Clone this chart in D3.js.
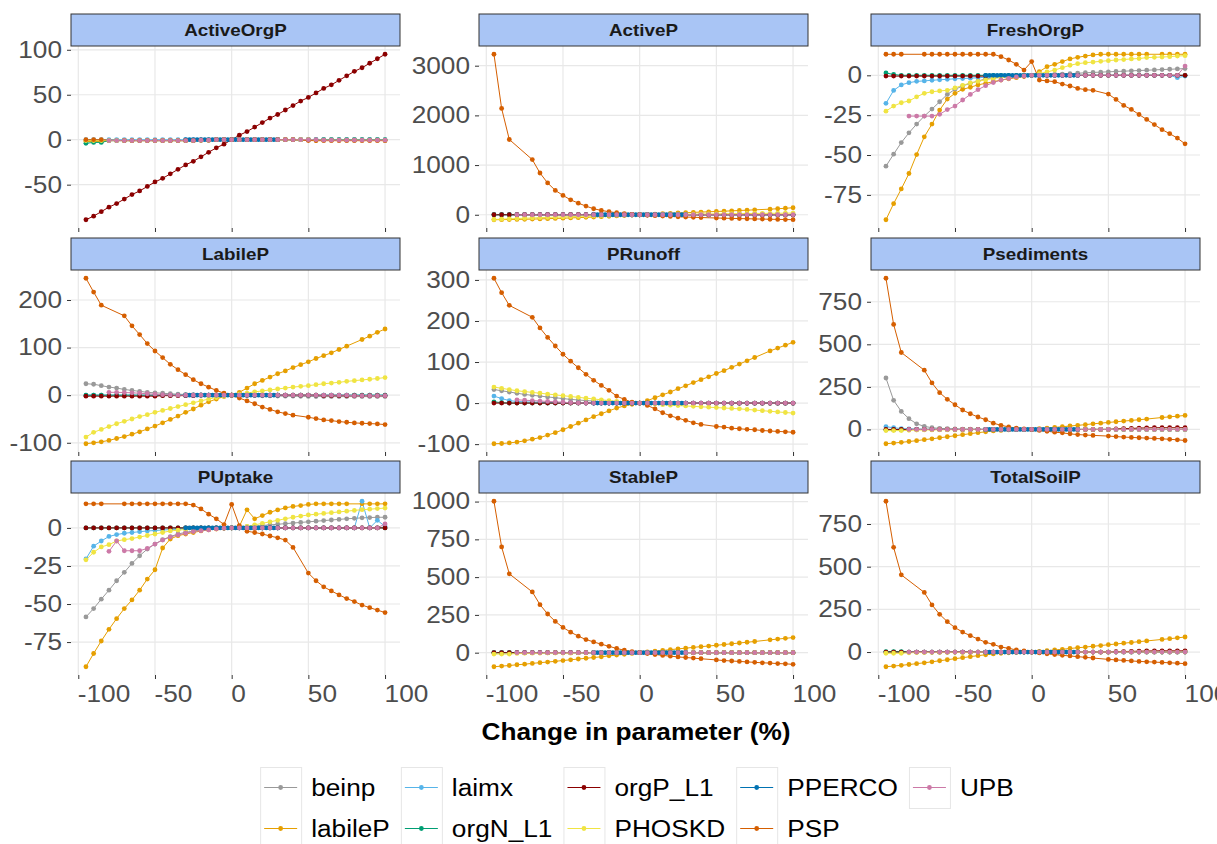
<!DOCTYPE html>
<html>
<head>
<meta charset="utf-8">
<script src="https://cdn.jsdelivr.net/npm/d3@7"></script>
<style>
  body { margin: 0; background: #fff; }
  svg { display: block; font-family: "Liberation Sans", Arial, sans-serif; }
</style>
</head>
<body>
<div id="vis"></div>
<script>
// x grid of the sensitivity runs (% change) and the finer PPERCO grid
const X = [-95,-90,-85,-80,-75,-70,-65,-60,-55,-50,-45,-40,-35,-30,-25,-20,-15,-10,-5,0,5,10,15,20,25,30,35,40,45,50,55,60,65,70,75,80,85,90,95,100]
const XP = [-30,-27.5,-25,-22.5,-20,-17.5,-15,-12.5,-10,-7.5,-5,-2.5,0,2.5,5,7.5,10,12.5,15,17.5,20,22.5,25,27.5,30]

const series = ["beinp","labileP","laimx","orgN_L1","orgP_L1","PHOSKD","PPERCO","PSP","UPB"]
const seriesColors = ["#999999","#E69F00","#56B4E9","#009E73","#8B0000","#F0E442","#0072B2","#D55E00","#CC79A7"]

const panelNames = ["ActiveOrgP","ActiveP","FreshOrgP","LabileP","PRunoff","Psediments","PUptake","StableP","TotalSoilP"]
const yTicks = [[-50,0,50,100],[0,1000,2000,3000],[-75,-50,-25,0],[-100,0,100,200],[-100,0,100,200,300],[0,250,500,750],[-75,-50,-25,0],[0,250,500,750,1000],[0,250,500,750]]
const xTicks = [-100,-50,0,50,100]

// flat series (no visible response)
const flat = [0,0,0,0,0,0,0,0,0,0,0,0,0,0,0,0,0,0,0,0,0,0,0,0,0,0,0,0,0,0,0,0,0,0,0,0,0,0,0,0]
const flatU = [null,null,null,0,0,0,0,0,0,0,0,0,0,0,0,0,0,0,0,0,0,0,0,0,0,0,0,0,0,0,0,0,0,0,0,0,0,0,0,0]
const flatP = [0,0,0,0,0,0,0,0,0,0,0,0,0,0,0,0,0,0,0,0,0,0,0,0,0]

// ActiveOrgP
const aop_beinp = [-1,-1,-1,-1,-1,-1,-1,-1,-1,-1,-1,-1,-1,-1,-1,-0.5,-0.5,0,0,0,0,0,0,0,0,0,0,0,0,0,0,0,0,0,0,0,0,0,0,-1]
const aop_labileP = [-2,-2,-2,-1,-1,-1,-1,-1,-1,-1,-1,-1,-1,-1,-1,-0.5,-0.5,0,0,0,0,0,0,0,0,0,0,0,0,0,-1,-1,-1,-1,-1,-1,-1,-1,-1,-1]
const aop_orgN_L1 = [-4,-3,-3,-1,-1,-1,-1,-1,-1,-1,-1,-1,-1,-1,-1,-0.5,-0.5,0,0,0,0,0,0,0,0,0,0,0,0,0,0,0,0,0,0,0,0,0,0,0]
const aop_orgP_L1 = [-89,-85,-80,-75,-71,-66,-61,-57,-52,-47,-43,-38,-33,-28,-24,-19,-14,-9,-5,0,5,9,14,19,24,28,33,38,43,47,52,57,61,66,71,76,80,85,90,95]
const aop_PHOSKD = [-1,-1,-1,-1,-1,-1,-1,-1,-1,-1,-1,-1,-1,-1,-1,-0.5,-0.5,0,0,0,0,0,0,0,0,0,0,0,0,0,-0.5,-0.5,-0.5,-0.5,-0.5,-0.5,-0.5,-0.5,-0.5,-0.5]
const aop_PSP = [0,0,0,null,null,-1,-1,-1,-1,-1,-1,-1,-1,-1,-1,-0.5,-0.5,0,0,0,0,0,0,0,0,0,0,0,null,-1,-1,-1,-1,-1,-1,-1,-1,-1,-1,-1]
const aop_UPB = [null,null,null,-1,-1,-1,-1,-1,-1,-1,-1,-1,-1,-1,-1,-0.5,-0.5,0,0,0,0,0,0,0,0,0,0,0,0,0,0,-0.5,-0.5,-0.5,-0.5,-0.5,-0.5,-0.5,-0.5,-0.5]

// ActiveP
const ap_labileP = [-100,-98,-96,-93,-90,-87,-83,-79,-74,-69,-64,-58,-52,-45,-38,-31,-23,-15,-7,0,6,14,21,28,35,41,48,54,60,66,72,79,86,92,99,null,113,121,131,141]
const ap_PHOSKD = [-95,-88,-82,-76,-70,-64,-58,-53,-48,-43,-38,-33,-28,-23,-18,-14,-10,-6,-3,0,2,4,6,8,10,12,14,15,17,19,20,22,23,25,26,28,29,30,32,33]
const ap_PSP = [3230,2140,1515,null,null,1110,840,640,490,390,300,234,174,121,87,61,40,20,8,0,-10,-18,-26,-33,-40,-46,-51,-56,null,-65,-69,-73,-77,-80,-84,-87,-90,-93,-96,-99]

// FreshOrgP
const fop_beinp = [-57,-49.5,-42.2,-36.1,-30.6,-25.6,-21.2,-16.6,-12,-8.8,-6.7,-5,-3.6,-2.2,-1.5,-1,-0.6,-0.3,-0.1,0,0.2,0.4,0.6,0.8,1,1.3,1.6,1.8,2,2.2,2.4,2.6,2.8,3,3.2,3.4,3.6,3.8,4,4.2]
const fop_labileP = [-90.6,-80.5,-71.3,-61.6,-49.7,-38.6,-30.6,-21.8,-14.9,-11.3,-8.8,-7.5,-6,-5,-4,-3,-2.2,-1.5,-0.7,0,2.3,5.4,6.9,8.6,10.3,11.3,12.1,12.8,13.2,13.2,13.2,13.2,13.2,13.2,13.2,null,13.2,13.2,13.2,13.2]
const fop_laimx = [-17.6,-9.5,-6,-4.6,-3.8,-3.5,-3.1,-2.8,-2.5,-2.2,-2,-1.8,-1.5,-1.2,-1,-0.8,-0.5,-0.3,-0.1,0,0,0,0,0,0,0,0,0,0,0,0,0,0,0,0,0,0,0,-1.5,-0.5]
const fop_orgN_L1 = [1.5,0.5,0,0,0,0,0,0,0,0,0,0,0,0,0,0,0,0,0,0,0,0,0,0,0,0,0,0,0,0,0,0,0,0,0,0,0,0,0,0]
const fop_orgP_L1 = [-0.5,-0.5,-0.5,-0.5,-0.5,-0.5,-0.5,-0.5,-0.5,-0.5,-0.5,-0.5,-0.5,-0.5,-0.5,-0.5,-0.5,-0.5,-0.5,0,0,0,0,0,0,0,0,0,0,0,0,0,0,0,0,0,0,0,0,0]
const fop_PHOSKD = [-22.5,-19.3,-17.2,-16.1,-13.5,-11.3,-10.3,-9.8,-9.4,-7.9,-6.3,-4.8,-3.8,-2.8,-2,-1.4,-0.9,-0.5,-0.2,0,1,2.1,3.3,4.8,6.3,7.3,7.9,8.3,8.8,9.2,9.6,9.9,10.3,10.5,11.1,11.3,11.5,11.7,12.1,12.3]
const fop_PSP = [13.2,13.2,13.2,null,null,13.2,13.2,13.2,13.2,13.2,13.2,13.2,13.2,13.2,13.2,11.7,9.6,6.9,3.3,8.6,-3,-3.5,-4,-5.5,-6.7,-8.2,-9,-9.4,null,-11.8,-15.1,-18.9,-21.4,-24.6,-27.7,-30.9,-34.1,-36.6,-39.4,-43]
const fop_UPB = [null,null,null,-25.6,-25.6,-25.6,-25.6,-24.5,-21.5,-19.3,-15.5,-12,-9,-6.5,-4.5,-3,-2,-1,-0.4,0,0,0,0,0,0,0,0,0,0,0,0,0,0,0,0,0,0,0,0,5.8]

// LabileP
const lp_beinp = [24,23,20,17,15,12,10,8,6,5,4,3,2,1.5,1,0.6,0.3,0.1,0,0,-0.3,-0.6,-0.9,-1.2,-1.5,-1.8,-2,-2.2,-2.4,-2.6,-2.8,-3,-3,-3,-3,-3,-3,-3,-3,-3]
const lp_labileP = [-102,-100,-98,-95,-91,-87,-82,-77,-71,-65,-58,-51,-44,-36,-29,-21,-14,-8,-3,0,6,15,24,31,38,45,51,58,64,70,77,83,89,96,103,null,117,124,132,139]
const lp_orgP_L1 = [-2,-2,-2,-2,-2,-2,-2,-2,-2,-2,-1,-1,-1,-1,-1,0,0,0,0,0,0,0,0,0,0,0,0,0,0,0,0,-1,-1,-1,-1,-1,-1,-1,-1,-1]
const lp_PHOSKD = [-88,-78,-72,-66,-60,-55,-50,-45,-41,-36,-32,-28,-24,-20,-16,-12,-8,-5,-2,0,2,4.5,7,9,11,13,15,17,18.5,20,22,24,25.5,27,29,30.5,32,33.5,35,37]
const lp_PSP = [245.6,216.7,189,null,null,166.7,145.6,127.4,108.4,92.8,78.9,64.8,53.6,43,32.5,24,16.9,9.9,4.2,0,-6,-12,-18,-25,-30,-35,-38.6,-42,null,-46.4,-49.2,-52,-53.4,-55.5,-56.9,-58.3,-59,-59.7,-60.4,-61.8]
const lp_UPB = [null,null,null,6,6,5.5,5,4,3,2,1,0.5,0,0,0,0,0,0,0,0,0,0,0,0,0,0,0,0,0,0,0,0,0,0,0,-1,-1,-1,-1,-1]

// PRunoff
const pr_beinp = [33,30,27,24,21,19,17,15,13,11,9,7.5,6,5,4,3,2,1,0.5,0,-0.2,-0.4,-0.6,-0.8,-1,-1,-1,-1,-1,-1,-1,-1,-1,-1,-1,-1,-1,-1,-1,-1]
const pr_labileP = [-99,-98.5,-97,-95,-92,-88,-84,-78,-72,-65,-57,-49,-41,-33,-26,-19,-12,-7,-3,0,6,13,20,27,35,42,50,57,64,72,79,87,95,103,111,null,127,134,141,148]
const pr_laimx = [17,11,6,4,3,2.5,2,1.5,1,0.8,0.5,0.3,0.2,0,0,0,0,0,0,0,0,0,0,0,0,0,0,0,0,0,0,0,0,0,0,0,0,0,0,0]
const pr_orgN_L1 = [3,1,0,0,0,0,0,0,0,0,0,0,0,0,0,0,0,0,0,0,0,0,0,0,0,0,0,0,0,0,0,0,0,0,0,0,0,0,0,0]
const pr_PHOSKD = [39,36,33,30,28,26,24,22,20,18,16,14,12,10,8,6,4,2.5,1,0,-1,-2.5,-4,-5,-6,-7,-8,-9,-10,-11,-12,-13,-14,-15.5,-17,-18.5,-20,-21.5,-23,-24.4]
const pr_PSP = [304,269,238,null,null,209,183,160,139,119,102,86,70,55.5,43,31,17,9,2,0,-5.7,-14,-23.6,-31,-36.7,-42,-48,-52,null,-57,-58.5,-61,-62.5,-64,-65,-66.8,-68,-69,-70,-71]
const pr_UPB = [null,null,null,8,7,6,5,4,3,2,1,0.5,0,0,0,0,0,0,0,0,0,0,0,0,0,0,0,0,0,0,0,0,0,0,0,0,0,0,0,0]

// Psediments
const ps_beinp = [302,171,106,63,33,18,10,6,4,2.5,1.5,1,0.5,0,0,0,0,0,0,0,0,0,0,0,0,0,0,0,0,0,0,0,0,0,0,0,0,0,0,0]
const ps_labileP = [-84,-80,-76,-71,-66,-60,-55,-49,-43,-37,-31,-25,-19,-14,-9,-6,-3,-1,0,0,4,8,12,16,20,24,28,33,37,41,45,49,53,57,61,null,70,74,78,82]
const ps_laimx = [16,10,5,3,2,1,0.5,0,0,0,0,0,0,0,0,0,0,0,0,0,0,0,0,0,0,0,0,0,0,0,0,0,0,0,0,0,0,0,0,0]
const ps_orgN_L1 = [-3,-2,-2,0,0,0,0,0,0,0,0,0,0,0,0,0,0,0,0,0,0,0,0,0,0,0,0,0,0,0,0,0,0,0,0,0,0,0,0,0]
const ps_orgP_L1 = [0,0,0,0,0,0,0,0,0,0,0,0,0,0,0,0,0,0,0,0,0,0,0,0,0,0,0,0,0,0,3,5,6,8,9,10,10,10,10,10]
const ps_PHOSKD = [-7,-7,-7,-5,-4,-3,-3,-2,-2,-1,-1,-1,-1,0,0,0,0,0,0,0,0,0,0,0,0,0,0,0,0,0,0,0,0,0,0,0,0,0,0,0]
const ps_PSP = [888,617,452,null,null,348,273,216,177,145,114,92,73,57,37,24,15,8,3,0,-6,-11,-16,-20,-26,-30,-33,-35,null,-39,-42,-45,-47,-49,-51,-53,-55,-58,-61,-65]

// PUptake
const pu_beinp = [-58.5,-53,-46.8,-40.9,-34.7,-29.2,-23.3,-18.3,-13.9,-10.6,-7.7,-5.7,-4,-2.9,-2,-1.3,-0.8,-0.4,-0.1,0,0.4,0.8,1.2,1.6,2,2.4,2.8,3.2,3.6,4,4.4,4.8,5.2,5.6,6,6.3,6.6,6.8,7,7]
const pu_labileP = [-91.2,-82.5,-74.3,-66.6,-59.6,-53,-47.3,-40.9,-33.6,-27.5,-13.2,-7.3,-5.1,-4,-3,-2,-1.3,-0.7,-0.3,0,1,11.9,6,8.1,10.3,11.8,13.2,14.1,14.7,15.4,15.8,15.8,15.8,15.8,15.8,null,15.8,15.8,15.8,15.8]
const pu_laimx = [-20.4,-12,-8.6,-5.6,-4.4,-3.5,-3,-2.5,-2,-1.7,-1.4,-1.1,-0.8,-0.5,-0.3,-0.2,-0.1,0,0,0,0,0,0,0,0,0,0,0,0,0,0,0,0,0,0,0,17.5,0,5,1]
const pu_PHOSKD = [-21,-16,-12.5,-11,-8.6,-7.7,-7,-6,-5,-4,-3,-2,-1.5,-1,-0.7,-0.4,-0.2,-0.1,0,0,0.5,1,2,3,4,5,6,7,7.8,8.5,9,9.5,10,10.5,11,11.5,12,12.3,12.7,13]
const pu_PSP = [15.8,15.8,15.8,null,null,15.8,15.8,15.8,15.8,15.8,15.8,15.8,15.8,15.8,15,12.5,9,6,2.2,15.4,1.5,-2.2,-3,-4,-5.3,-6.5,-8,-12.8,null,-29.7,-34.7,-38.7,-41.4,-44,-46.4,-48.4,-50.7,-52.4,-54,-55.6]
const pu_UPB = [null,null,null,-15.4,-8.6,-15,-15,-15,-13.5,-10.6,-8,-6,-4.6,-3.5,-2.4,-1.8,-1.3,-0.6,-0.2,0,0,0,0,0,0,0,0,0,0,0,0,0,0,0,0,0,0,0,0,2.6]

// StableP
const sp_labileP = [-93,-89,-85,-80,-76,-71,-66,-62,-57,-52,-47,-42,-37,-32,-27,-21,-16,-11,-5,0,5,10,15,20,25,30,35,40,44,49,54,59,64,69,74,null,85,90,95,100]
const sp_PHOSKD = [-9,-9,-9,-5,-4,-3,-3,-2,-2,-2,-3,-1,-1,0,0,0,0,0,0,0,0,0,0,0,0,0,0,0,0,0,0,0,0,0,0,0,0,0,0,0]
const sp_PSP = [1002,700,522,null,null,402,318,256,207,167,136,109,87,71,56,42,28,16,7,0,-6,-12,-18,-23,-28,-32,-36,-40,null,-48,-52,-55,-58,-61,-64,-67,-69,-72,-74,-77]

// TotalSoilP
const ts_labileP = [-86,-82,-78,-73,-68,-63,-57,-51,-45,-39,-33,-27,-21,-16,-11,-7,-4,-2,-0.5,0,4,8,12,16,21,25,29,34,38,43,47,52,56,61,65,null,74,78,83,88]
const ts_orgN_L1 = [3,3,3,0,0,0,0,0,0,0,0,0,0,0,0,0,0,0,0,0,0,0,0,0,0,0,0,0,0,0,0,0,0,0,0,0,0,0,0,0]
const ts_orgP_L1 = [0,0,0,0,0,0,0,0,0,0,0,0,0,0,0,0,0,0,0,0,0,0,0,0,0,0,0,0,0,0,2,3,4,5,6,7,7,7,7,7]
const ts_PHOSKD = [-7,-7,-7,-4,-3,-3,-2,-2,-2,-1.5,-3,-1,-1,0,0,0,0,0,0,0,0,0,0,0,0,0,0,0,0,0,0,0,0,0,0,0,0,0,0,0]
const ts_PSP = [883,613,452,null,null,349,276,221,178,143,117,96,76,57,45,29,22,12,6,0,-5,-10,-15,-19,-23,-27,-31,-35,null,-43,-46,-49,-52,-55,-57,-59,-61,-63,-65,-68]

// table: one row per panel, series in legend order
const panelData = [
  [aop_beinp, aop_labileP, flat, aop_orgN_L1, aop_orgP_L1, aop_PHOSKD, flatP, aop_PSP, aop_UPB],
  [flat, ap_labileP, flat, flat, flat, ap_PHOSKD, flatP, ap_PSP, flatU],
  [fop_beinp, fop_labileP, fop_laimx, fop_orgN_L1, fop_orgP_L1, fop_PHOSKD, flatP, fop_PSP, fop_UPB],
  [lp_beinp, lp_labileP, flat, flat, lp_orgP_L1, lp_PHOSKD, flatP, lp_PSP, lp_UPB],
  [pr_beinp, pr_labileP, pr_laimx, pr_orgN_L1, flat, pr_PHOSKD, flatP, pr_PSP, pr_UPB],
  [ps_beinp, ps_labileP, ps_laimx, ps_orgN_L1, ps_orgP_L1, ps_PHOSKD, flatP, ps_PSP, flatU],
  [pu_beinp, pu_labileP, pu_laimx, flat, flat, pu_PHOSKD, flatP, pu_PSP, pu_UPB],
  [flat, sp_labileP, flat, flat, flat, sp_PHOSKD, flatP, sp_PSP, flatU],
  [flat, ts_labileP, flat, ts_orgN_L1, ts_orgP_L1, ts_PHOSKD, flatP, ts_PSP, flatU]
]

const width = 1217, height = 844
const colLeft = [71, 479, 871], rowTop = [46, 270, 493]
const panelW = 329, panelH = 182, stripH = 32
const stretchX = 1.14

const svg = d3.select("#vis").append("svg")
  .attr("width", width).attr("height", height)

// text in the picture is a little wider than the plain font
function widen(sel) {
  sel.each(function () {
    const w = this.getComputedTextLength()
    d3.select(this).attr("textLength", w * stretchX).attr("lengthAdjust", "spacingAndGlyphs")
  })
}

// plain hyphen for negatives, like the original
const plainNum = d => String(d)

const xPad = (d3.max(X) - d3.min(X)) * 0.05
const x = d3.scaleLinear().domain([d3.min(X) - xPad, d3.max(X) + xPad]).range([0, panelW])

function toPoints(xs, ys) {
  return xs.map((v, i) => [v, ys[i]]).filter(d => d[1] !== null)
}

panelNames.forEach((name, i) => {
  const col = i % 3, row = Math.floor(i / 3)
  const g = svg.append("g").attr("transform", `translate(${colLeft[col]},${rowTop[row]})`)

  const rows = panelData[i].map((ys, s) => toPoints(series[s] === "PPERCO" ? XP : X, ys))
  const allY = rows.flat().map(d => d[1])
  const [y0, y1] = d3.extent(allY)
  const yPad = (y1 - y0) * 0.05
  const y = d3.scaleLinear().domain([y0 - yPad, y1 + yPad]).range([panelH, 0])

  // grid
  g.append("g").selectAll("line.h").data(yTicks[i]).join("line")
    .attr("x1", 0).attr("x2", panelW)
    .attr("y1", d => y(d)).attr("y2", d => y(d))
    .attr("stroke", "#e8e8e8").attr("stroke-width", 1.2)
  g.append("g").selectAll("line.v").data(xTicks).join("line")
    .attr("y1", 0).attr("y2", panelH)
    .attr("x1", d => x(d)).attr("x2", d => x(d))
    .attr("stroke", "#e8e8e8").attr("stroke-width", 1.2)

  // y axis
  const yAxis = g.append("g")
    .call(d3.axisLeft(y).tickValues(yTicks[i]).tickSize(4).tickPadding(5).tickFormat(plainNum))
  yAxis.select(".domain").remove()
  yAxis.selectAll(".tick line").attr("stroke", "#333")
  yAxis.selectAll(".tick text")
    .attr("fill", "#4d4d4d").style("font-size", "23px")
    .call(widen)

  // x axis (labels only on the bottom row)
  const xAxis = g.append("g").attr("transform", `translate(0,${panelH})`)
    .call(d3.axisBottom(x).tickValues(xTicks).tickSize(4).tickPadding(7).tickFormat(plainNum))
  xAxis.select(".domain").remove()
  xAxis.selectAll(".tick line").attr("stroke", "#333")
  if (row === 2) {
    xAxis.selectAll(".tick text")
      .attr("fill", "#4d4d4d").style("font-size", "23px")
      .attr("text-anchor", "start").attr("dx", -1)
      .call(widen)
  } else {
    xAxis.selectAll(".tick text").remove()
  }

  // strip
  g.append("rect")
    .attr("x", 0).attr("y", -stripH).attr("width", panelW).attr("height", stripH)
    .attr("fill", "#a9c5f5").attr("stroke", "#333").attr("stroke-width", 1)
  g.append("text")
    .attr("x", panelW / 2).attr("y", -stripH / 2).attr("dy", "0.36em")
    .attr("text-anchor", "middle")
    .style("font-size", "16.5px").style("font-weight", "bold").attr("fill", "#1a1a1a")
    .text(name)
    .call(widen)

  // lines first, then points
  const line = d3.line().x(d => x(d[0])).y(d => y(d[1]))
  rows.forEach((pts, s) => {
    g.append("path").datum(pts)
      .attr("fill", "none").attr("stroke", seriesColors[s]).attr("stroke-width", 1)
      .attr("d", line)
  })
  rows.forEach((pts, s) => {
    g.append("g").selectAll("circle").data(pts).join("circle")
      .attr("cx", d => x(d[0])).attr("cy", d => y(d[1])).attr("r", 2.4)
      .attr("fill", seriesColors[s])
  })
})

// axis title
svg.append("text")
  .attr("x", 636).attr("y", 740).attr("text-anchor", "middle")
  .style("font-size", "23px").style("font-weight", "bold").attr("fill", "#000")
  .text("Change in parameter (%)")
  .call(widen)

// legend: 2 rows, filled by column
const keyW = 41, keyH = 41, legendTop = 767, nRows = 2
const legend = svg.append("g")
const nCols = Math.ceil(series.length / nRows)
const colWidths = []
const items = []
for (let c = 0; c < nCols; c++) {
  let maxW = 0
  for (let r = 0; r < nRows; r++) {
    const s = c * nRows + r
    if (s >= series.length) continue
    const t = legend.append("text")
      .attr("y", legendTop + r * keyH + keyH / 2).attr("dy", "0.36em")
      .style("font-size", "23px").attr("fill", "#000")
      .text(series[s])
    const w = t.node().getComputedTextLength() * stretchX
    t.attr("textLength", w).attr("lengthAdjust", "spacingAndGlyphs")
    maxW = Math.max(maxW, w)
    items.push({ s, c, r, t })
  }
  colWidths.push(keyW + 10 + maxW + 11)
}
const totalW = d3.sum(colWidths) - 11
const start = 637 - totalW / 2
const colX = colWidths.map((w, c) => start + d3.sum(colWidths.slice(0, c)))

for (let c = 0; c < nCols; c++) {
  const n = Math.min(nRows, series.length - c * nRows)
  legend.insert("rect", ":first-child")
    .attr("x", colX[c] + 0.5).attr("y", legendTop + 0.5)
    .attr("width", keyW).attr("height", keyH * n)
    .attr("fill", "#fff").attr("stroke", "#e6e6e6").attr("stroke-width", 1)
}
items.forEach(({ s, c, r, t }) => {
  const cy = legendTop + r * keyH + keyH / 2
  const kx = colX[c]
  t.attr("x", kx + keyW + 10)
  legend.append("line")
    .attr("x1", kx + 4).attr("x2", kx + keyW - 4).attr("y1", cy).attr("y2", cy)
    .attr("stroke", seriesColors[s]).attr("stroke-width", 1.2)
  legend.append("circle")
    .attr("cx", kx + keyW / 2).attr("cy", cy).attr("r", 2.4)
    .attr("fill", seriesColors[s])
})
</script>
</body>
</html>
